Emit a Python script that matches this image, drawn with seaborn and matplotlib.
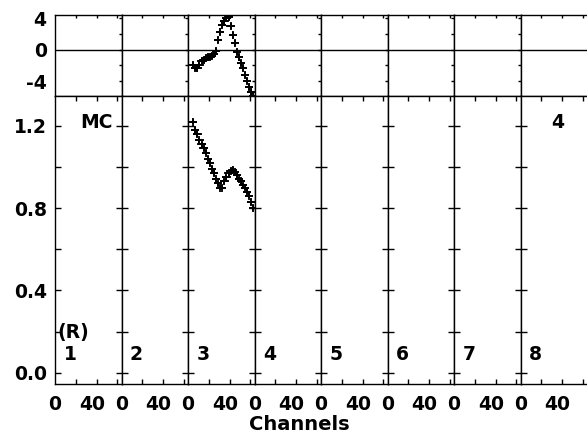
import numpy as np
import pandas as pd
import matplotlib
matplotlib.use("Agg")
import matplotlib.pyplot as plt
import seaborn as sns

# values (panel 3 only carries data)
channels = [5, 7, 9, 11, 13, 15, 17, 19, 21, 23, 25, 27, 29, 31, 33,
            35, 37, 39, 41, 43, 45, 47, 49, 51, 53, 55, 57, 59, 61, 63]
residual = [-2.0, -2.3, -2.4, -2.0, -1.5, -1.3, -1.1, -1.0, -0.9, -0.8,
            -0.6, -0.2, 1.2, 2.3, 3.1, 3.6, 4.0, 4.2, 3.0, 1.8,
            0.8, -0.3, -1.0, -1.7, -2.3, -3.2, -4.0, -4.8, -5.4, -5.9]
ratio = [1.22, 1.18, 1.16, 1.13, 1.11, 1.09, 1.07, 1.04, 1.02, 0.99,
         0.97, 0.94, 0.92, 0.90, 0.90, 0.93, 0.95, 0.97, 0.98, 0.985,
         0.975, 0.96, 0.94, 0.93, 0.91, 0.90, 0.88, 0.86, 0.83, 0.80]
panel_labels = ["1", "2", "3", "4", "5", "6", "7", "8"]
data_panel = 2

sns.set_theme(style="white")
plt.rcParams["font.family"] = ["DejaVu Sans"]
plt.rcParams["font.weight"] = "bold"
plt.rcParams["text.color"] = "black"
plt.rcParams["xtick.color"] = "black"
plt.rcParams["ytick.color"] = "black"
plt.rcParams["xtick.labelcolor"] = "black"
plt.rcParams["ytick.labelcolor"] = "black"
plt.rcParams["axes.unicode_minus"] = False

df = pd.DataFrame({"channel": channels, "residual": residual, "ratio": ratio})

FS = 13.5
W, H = 587, 437
fig, axes = plt.subplots(
    2, 8, figsize=(W / 100, H / 100), dpi=100,
    gridspec_kw=dict(height_ratios=[81, 288], hspace=0, wspace=0,
                     left=55 / W, right=1.0, top=1 - 15 / H, bottom=1 - 384 / H),
)

for i in range(8):
    top = axes[0, i]
    bot = axes[1, i]
    for ax in (top, bot):
        ax.set_facecolor("white")
        ax.set_xlim(0, 64)
        for s in ax.spines.values():
            s.set_color("black")
            s.set_linewidth(1.0)
            s.set_visible(True)
        ax.set_xticks([0, 35.5])
        ax.set_xticks([20, 40, 60], minor=True)
    if i == 7:
        top.spines["right"].set_visible(False)
        bot.spines["right"].set_visible(False)

    # top: residuals
    top.set_ylim(-5.9, 4.4)
    top.set_yticks([-4, 0, 4])
    top.set_yticks([-2, 2], minor=True)
    top.axhline(0, color="black", lw=1.0)
    top.tick_params(axis="both", which="both", direction="in", top=True,
                    right=(i < 7), length=2.2, width=1.0, color="black")
    top.tick_params(axis="x", which="major", length=0, labelbottom=False)
    top.tick_params(axis="y", which="major", labelsize=FS, pad=6)

    # bottom: ratio
    bot.set_ylim(-0.055, 1.345)
    bot.set_yticks([0.0, 0.4, 0.8, 1.2])
    bot.set_yticks([0.2, 0.6, 1.0], minor=True)
    bot.set_yticklabels(["0.0", "0.4", "0.8", "1.2"])
    bot.tick_params(axis="y", which="both", direction="in", left=True,
                    right=(i < 7), length=4, width=1.0, color="black")
    bot.tick_params(axis="x", which="minor", direction="in", top=True,
                    bottom=True, length=3.3, width=1.0, color="black")
    bot.tick_params(axis="x", which="major", length=0, labelsize=FS, pad=8)
    bot.set_xticklabels(["0", "40"])
    bot.tick_params(axis="y", which="major", labelsize=FS, pad=6)

    if i > 0:
        top.tick_params(axis="y", labelleft=False)
        bot.tick_params(axis="y", labelleft=False)

    bot.text(14.4, 0.086, panel_labels[i], fontsize=FS, fontweight="bold",
             ha="center", va="center")

    if i == data_panel:
        top.errorbar(df["channel"], df["residual"], xerr=4.0, yerr=0.4,
                     fmt="none", ecolor="black", elinewidth=1.3)
        sns.scatterplot(data=df, x="channel", y="residual", ax=top,
                        marker="+", color="black", s=30, linewidth=1.3)
        bot.errorbar(df["channel"], df["ratio"], xerr=4.0, yerr=0.013,
                     fmt="none", ecolor="black", elinewidth=1.3)
        sns.scatterplot(data=df, x="channel", y="ratio", ax=bot,
                        marker="+", color="black", s=30, linewidth=1.3)

    for ax in (top, bot):
        ax.set_xlabel("")
        ax.set_ylabel("")

axes[1, 0].text(40, 1.218, "MC", fontsize=FS, fontweight="bold",
                ha="center", va="center")
axes[1, 0].text(2.0, 0.193, "(R)", fontsize=FS, fontweight="bold",
                ha="left", va="center")
axes[1, 7].text(36, 1.218, "4", fontsize=FS, fontweight="bold",
                ha="center", va="center")

fig.text(299 / W, 1 - 424 / H, "Channels", fontsize=14, fontweight="bold",
         ha="center", va="center")

fig.savefig("out.png", dpi=100, facecolor="white")
